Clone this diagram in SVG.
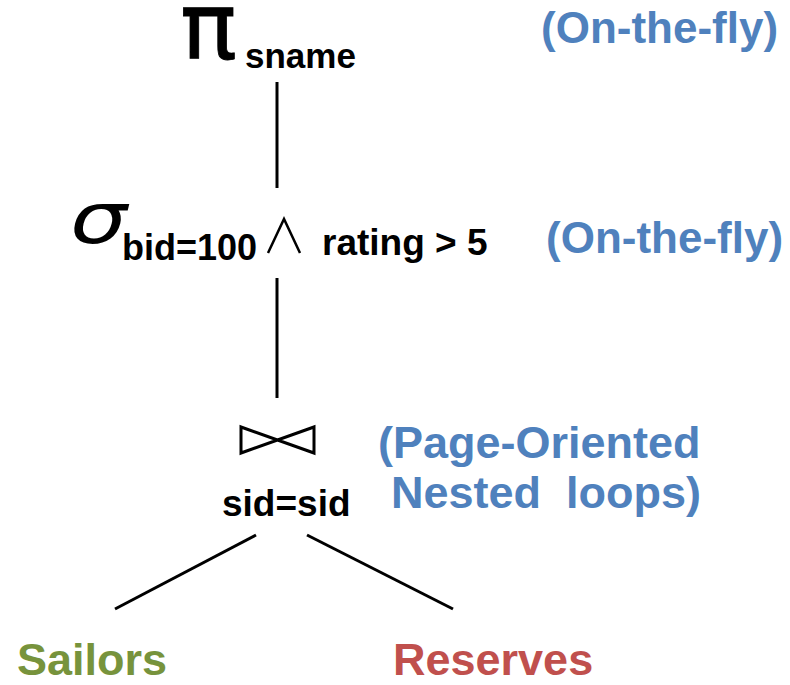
<svg xmlns="http://www.w3.org/2000/svg" width="790" height="685" viewBox="0 0 790 685">
<style>
.b{font-family:"Liberation Sans",Arial,sans-serif;font-weight:bold;fill:#000}
.note{font-family:"Liberation Sans",Arial,sans-serif;font-weight:bold;font-size:44px;fill:#4F81BD}
.edge{stroke:#000;stroke-width:3;fill:none}
</style>
<rect width="790" height="685" fill="#fff"/>
<g id="connectors">
<line class="edge" x1="277" y1="82" x2="277" y2="188"/>
<line class="edge" x1="277" y1="278" x2="277" y2="398"/>
<line class="edge" x1="256" y1="535" x2="115" y2="609"/>
<line class="edge" x1="307" y1="535" x2="453" y2="609"/>
</g>
<g id="project">
<text x="180" y="59" textLength="57" lengthAdjust="spacingAndGlyphs" style="font-family:'DejaVu Sans',sans-serif;font-size:93px;stroke:#000;stroke-width:0.8">π</text>
<text class="b" x="245" y="68" font-size="35">sname</text>
<text class="note" x="541" y="43">(On-the-fly)</text>
</g>
<g id="select">
<text x="70" y="243" textLength="57" lengthAdjust="spacingAndGlyphs" style="font-family:'DejaVu Sans',sans-serif;font-style:italic;font-size:72px">σ</text>
<text class="b" x="122" y="260" font-size="36">bid=100</text>
<polyline points="268,253 284,219 300,253" fill="none" stroke="#000" stroke-width="2.5"/>
<text class="b" x="322" y="255" font-size="37">rating &gt; 5</text>
<text class="note" x="546" y="253">(On-the-fly)</text>
</g>
<g id="join">
<path d="M241,427 L314,453 L314,427 L241,453 Z" fill="none" stroke="#000" stroke-width="3" stroke-linejoin="miter"/>
<text class="b" x="222" y="516" font-size="37">sid=sid</text>
<text class="note" x="378" y="458" style="font-size:45px">(Page-Oriented</text>
<text class="note" x="391" y="508" style="font-size:45px" xml:space="preserve">Nested  loops)</text>
</g>
<g id="sailors">
<text class="b" x="17" y="675" font-size="45" style="fill:#77933C">Sailors</text>
</g>
<g id="reserves">
<text class="b" x="393" y="675" font-size="45" style="fill:#C0504D">Reserves</text>
</g>
</svg>
